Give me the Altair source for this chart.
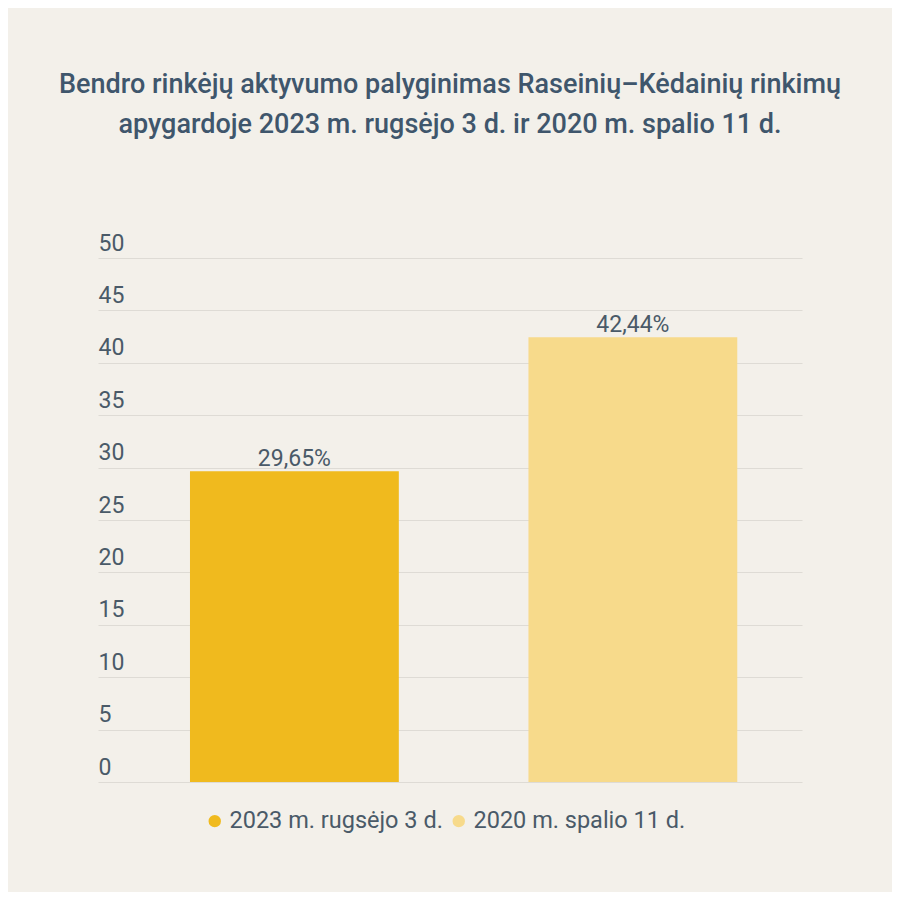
import altair as alt
import pandas as pd

categories = ["2023 m. rugsėjo 3 d.", "2020 m. spalio 11 d."]
values = [29.65, 42.44]
colors = ["#f0ba1e", "#f7da8b"]
y_ticks = [0, 5, 10, 15, 20, 25, 30, 35, 40, 45, 50]
title_lines = [
    "Bendro rinkėjų aktyvumo palyginimas Raseinių–Kėdainių rinkimų",
    "apygardoje 2023 m. rugsėjo 3 d. ir 2020 m. spalio 11 d.",
]

df = pd.DataFrame({
    "cat": categories,
    "val": values,
    "lbl": [f"{v:.2f}".replace(".", ",") + "%" for v in values],
})

FONT = "Roboto"
TXT = "#4a5a68"

base = alt.Chart(df).encode(
    x=alt.X("cat:N", sort=categories, axis=None,
            scale=alt.Scale(paddingInner=0.383, paddingOuter=0.2315, align=0.587)),
)

bars = base.mark_bar().encode(
    y=alt.Y("val:Q", scale=alt.Scale(domain=[0, 50], nice=False),
            axis=alt.Axis(values=y_ticks, title=None, ticks=False, tickSize=0, domain=False,
                          grid=True, gridColor="#dedbd5", gridWidth=1,
                          labelAlign="left", labelPadding=0, labelBaseline="bottom",
                          labelOffset=-3, labelFont=FONT, labelFontSize=23,
                          labelColor=TXT)),
    color=alt.Color("cat:N", sort=categories,
                    scale=alt.Scale(domain=categories, range=colors),
                    legend=alt.Legend(title=None, orient="none", direction="horizontal",
                                      legendX=105, legendY=551,
                                      symbolType="circle", symbolSize=154,
                                      symbolStrokeWidth=0, labelLimit=0,
                                      labelFont=FONT, labelFontSize=23.5, labelColor=TXT,
                                      columnPadding=4, symbolOffset=0, labelOffset=3)),
)

labels = base.mark_text(baseline="alphabetic", dy=-5, font=FONT, fontSize=23, color=TXT).encode(
    y=alt.Y("val:Q"),
    text="lbl:N",
)

chart = (bars + labels).properties(
    width=704,
    height=524,
    background="#f3f0ea",
    autosize=alt.AutoSizeParams(type="none"),
    padding={"left": 90, "top": 250, "right": 90, "bottom": 110},
    title=alt.TitleParams(text=title_lines, font=FONT, fontSize=27, fontWeight=500,
                          color="#3f566c", anchor="middle", offset=93, lineHeight=40),
).configure_view(stroke=None)

chart.save("out.html", embed_options={"renderer": "svg", "actions": False})
